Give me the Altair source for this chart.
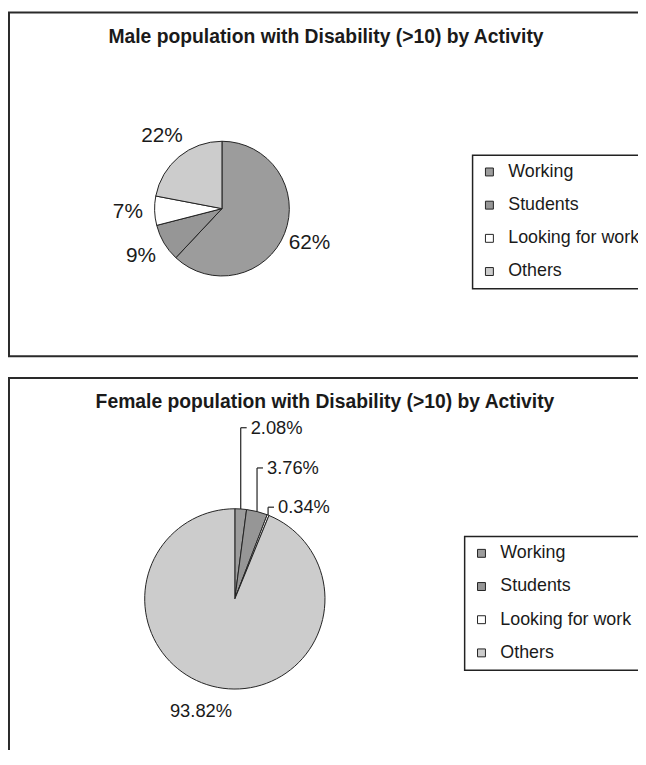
import altair as alt
import pandas as pd

# ---------------- data ----------------
ACTIVITIES = ["Working", "Students", "Looking for work", "Others"]
MALE_PCT = [62, 9, 7, 22]
MALE_LABELS = ["62%", "9%", "7%", "22%"]
FEMALE_PCT = [2.08, 3.76, 0.34, 93.82]
FEMALE_LABELS = ["2.08%", "3.76%", "0.34%", "93.82%"]
MALE_TITLE = "Male population with Disability (>10) by Activity"
FEMALE_TITLE = "Female population with Disability (>10) by Activity"

# ---------------- style / layout ----------------
COLORS = ["#9c9c9c", "#969696", "#ffffff", "#cccccc"]
FONT = "Liberation Sans"
INK = "#1a1a1a"
W, H = 636, 742
M_CX, M_CY, M_R = 216, 199, 68
F_CX, F_CY, F_R = 229, 593, 91
F_LABEL_R = 115
# vertical lift of the leader-line labels of the small female slices
F_LIFT = [82, 44, 8, 0]

male_df = pd.DataFrame({"activity": ACTIVITIES, "value": MALE_PCT,
                        "label": MALE_LABELS, "idx": list(range(4))})
female_df = pd.DataFrame({"activity": ACTIVITIES, "value": FEMALE_PCT,
                          "label": FEMALE_LABELS, "idx": list(range(4)),
                          "lift": F_LIFT})

one = pd.DataFrame({"a": [0]})


def frame(y0, y1):
    return alt.Chart(one).mark_rect(fill=None, stroke="#2a2a2a", strokeWidth=2).encode(
        x=alt.value(1), x2=alt.value(W + 50), y=alt.value(y0), y2=alt.value(y1))


def title(text, x, y):
    return alt.Chart(pd.DataFrame({"t": [text]})).mark_text(
        font=FONT, fontSize=19.5, fontWeight="bold", color=INK,
        align="center", baseline="middle").encode(
        text="t:N", x=alt.value(x), y=alt.value(y))


def legend(lx, ly):
    return alt.Legend(title=None, orient="none", legendX=lx, legendY=ly,
                      direction="vertical", symbolType="square", symbolSize=64,
                      symbolStrokeColor="#222", symbolStrokeWidth=1,
                      labelFont=FONT, labelFontSize=18, labelColor=INK,
                      labelOffset=10, rowPadding=15.5, padding=8,
                      strokeColor="#222", labelLimit=300)


def pie(df, cx, cy, r, lx, ly):
    return alt.Chart(df).mark_arc(radius=r, stroke="#222", strokeWidth=1).encode(
        theta=alt.Theta("value:Q", stack=True),
        color=alt.Color("activity:N",
                        scale=alt.Scale(domain=ACTIVITIES, range=COLORS),
                        legend=legend(lx, ly)),
        order=alt.Order("idx:Q"),
        x=alt.value(cx), y=alt.value(cy))


male_pie = pie(male_df, M_CX, M_CY, M_R, 469, 145)
male_text = alt.Chart(male_df).mark_text(
    radius=95, font=FONT, fontSize=21, color=INK,
    align="center", baseline="middle").encode(
    theta=alt.Theta("value:Q", stack=True),
    detail="activity:N", order=alt.Order("idx:Q"),
    text="label:N", x=alt.value(M_CX), y=alt.value(M_CY))

female_pie = pie(female_df, F_CX, F_CY, F_R, 461, 530)

fcalc = alt.Chart(female_df).transform_window(
    cum="sum(value)", sort=[alt.SortField("idx")], frame=[None, 0]
).transform_calculate(
    mid="(datum.cum - datum.value / 2) / 100 * 2 * PI",
).transform_calculate(
    ax=f"{F_CX} + {F_R} * sin(datum.mid)",
    ay=f"{F_CY} - {F_R} * cos(datum.mid)",
    bx=f"{F_CX} + {F_LABEL_R} * sin(datum.mid)",
    by=f"{F_CY} - {F_LABEL_R} * cos(datum.mid)",
).transform_calculate(
    ly="datum.ay - datum.lift",
    tx="datum.ax + 6",
    lx="datum.ax + 10",
)
fsmall = fcalc.transform_filter("datum.lift > 0")
fbig = fcalc.transform_filter("datum.lift == 0")

lead_v = fsmall.mark_rule(color="#222", strokeWidth=1.2).encode(
    x=alt.X("ax:Q", scale=None, axis=None),
    y=alt.Y("ay:Q", scale=None, axis=None),
    y2="ly:Q")
lead_h = fsmall.mark_rule(color="#222", strokeWidth=1.2).encode(
    x=alt.X("ax:Q", scale=None, axis=None),
    x2="tx:Q",
    y=alt.Y("ly:Q", scale=None, axis=None))
female_small_text = fsmall.mark_text(
    font=FONT, fontSize=18.5, color=INK, align="left", baseline="middle").encode(
    x=alt.X("lx:Q", scale=None, axis=None),
    y=alt.Y("ly:Q", scale=None, axis=None),
    text="label:N")
female_big_text = fbig.mark_text(
    dx=-12, font=FONT, fontSize=18.5, color=INK,
    align="center", baseline="middle").encode(
    x=alt.X("bx:Q", scale=None, axis=None),
    y=alt.Y("by:Q", scale=None, axis=None),
    text="label:N")

chart = alt.layer(
    frame(1, 348), frame(370, H + 50),
    title(MALE_TITLE, 321, 26), title(FEMALE_TITLE, 320, 394),
    male_pie, male_text,
    female_pie, lead_v, lead_h, female_small_text, female_big_text,
).resolve_scale(color="independent").properties(
    width=W, height=H,
    autosize=alt.AutoSizeParams(type="none"),
    padding=0,
    background="white",
).configure_view(stroke=None).configure_legend(strokeWidth=1.5)

chart.save("out.html", embed_options={"renderer": "svg", "actions": False})
